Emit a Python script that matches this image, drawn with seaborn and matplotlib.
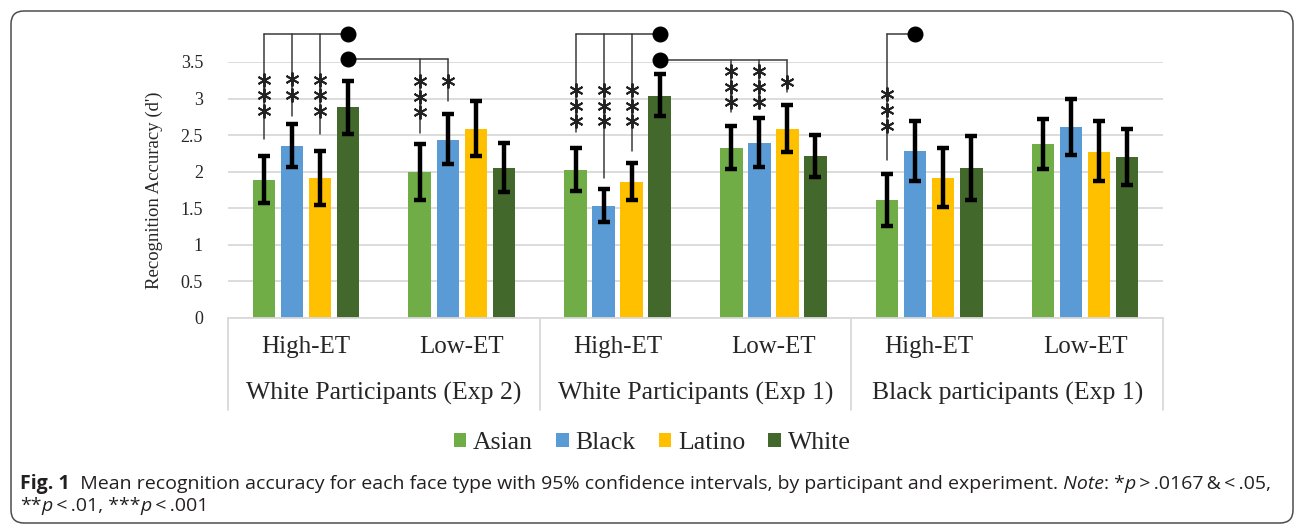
import matplotlib
matplotlib.use("Agg")
import matplotlib.pyplot as plt
import matplotlib.transforms as mtransforms
from matplotlib.patches import FancyBboxPatch, Patch
from matplotlib.font_manager import FontProperties
import seaborn as sns
import pandas as pd

# ---- data ----
participants = ["White Participants (Exp 2)", "White Participants (Exp 1)", "Black participants (Exp 1)"]
et_levels = ["High-ET", "Low-ET"]
faces = ["Asian", "Black", "Latino", "White"]
colors = ["#70AD47", "#5B9BD5", "#FFC000", "#43682B"]

# one value per cluster: Exp2 High, Exp2 Low, Exp1 High, Exp1 Low, Black High, Black Low
asian_mean = [1.89, 2.00, 2.02, 2.33, 1.61, 2.38]
black_mean = [2.35, 2.44, 1.53, 2.39, 2.28, 2.61]
latino_mean = [1.91, 2.58, 1.86, 2.59, 1.92, 2.27]
white_mean = [2.88, 2.05, 3.04, 2.21, 2.05, 2.20]

asian_lo = [1.57, 1.62, 1.74, 2.04, 1.26, 2.04]
asian_hi = [2.22, 2.38, 2.33, 2.62, 1.97, 2.72]
black_lo = [2.06, 2.10, 1.31, 2.06, 1.87, 2.23]
black_hi = [2.65, 2.79, 1.76, 2.73, 2.70, 2.99]
latino_lo = [1.54, 2.22, 1.61, 2.27, 1.52, 1.87]
latino_hi = [2.28, 2.96, 2.12, 2.91, 2.33, 2.69]
white_lo = [2.52, 1.72, 2.76, 1.93, 1.62, 1.82]
white_hi = [3.24, 2.39, 3.33, 2.50, 2.49, 2.59]

yticks = [0, 0.5, 1, 1.5, 2, 2.5, 3, 3.5]

# significance brackets: level of the bracket and the bar that carries the dot
bracket_level = [3.88, 3.54, 3.88, 3.53, 3.88]
bracket_group = [0, 0, 2, 2, 4]
bracket_face = ["White", "White", "White", "White", "Black"]
# legs hanging from each bracket
sig_bracket = [0, 0, 0, 1, 1, 2, 2, 2, 3, 3, 3, 4]
sig_group = [0, 0, 0, 1, 1, 2, 2, 2, 3, 3, 3, 4]
sig_face = ["Asian", "Black", "Latino", "Asian", "Black", "Asian", "Black", "Latino",
            "Asian", "Black", "Latino", "Asian"]
sig_stars = [3, 2, 3, 3, 1, 3, 3, 3, 3, 3, 1, 3]
sig_end = [2.45, 2.76, 2.52, 2.53, 2.97, 2.54, 1.91, 2.29, 2.82, 2.94, 3.09, 2.16]
sig_star_top = [3.26, 3.27, 3.26, 3.24, 3.24, 3.12, 3.12, 3.12, 3.38, 3.38, 3.23, 3.06]

SERIF = "Liberation Serif"


def main():
    sns.set_style("white")
    plt.rcParams["font.family"] = [SERIF, "DejaVu Serif"]

    clusters = [f"{p}|{e}" for p in participants for e in et_levels]
    means = dict(zip(faces, [asian_mean, black_mean, latino_mean, white_mean]))
    los = dict(zip(faces, [asian_lo, black_lo, latino_lo, white_lo]))
    his = dict(zip(faces, [asian_hi, black_hi, latino_hi, white_hi]))
    rows = []
    for f in faces:
        for i, c in enumerate(clusters):
            rows.append({"cluster": c, "face": f, "d": means[f][i]})
    df = pd.DataFrame(rows)

    fig = plt.figure(figsize=(12.95, 5.25), dpi=100)
    W, H = 1295, 525
    ax = fig.add_axes([228 / W, 1 - 318 / H, (1163 - 228) / W, (318 - 62) / H])

    width = 0.72
    sns.barplot(data=df, x="cluster", y="d", hue="face", order=clusters, hue_order=faces,
                palette=colors, saturation=1, width=width, gap=0.2, ax=ax, legend=False,
                edgecolor="none", zorder=2)

    step = width / len(faces)

    def xpos(g, face):
        return g + (faces.index(face) - (len(faces) - 1) / 2) * step

    for f in faces:
        xs = [xpos(g, f) for g in range(len(clusters))]
        m = means[f]
        yerr = [[m[i] - los[f][i] for i in range(len(m))],
                [his[f][i] - m[i] for i in range(len(m))]]
        ax.errorbar(xs, m, yerr=yerr, fmt="none", ecolor="black", elinewidth=3.2,
                    capsize=4.5, capthick=3.2, zorder=3)

    ax.set_ylim(0, 3.5)
    ax.set_xlim(-0.5, len(clusters) - 0.5)
    ax.set_yticks(yticks)
    ax.set_yticklabels([f"{v:g}" for v in yticks], fontsize=13, fontfamily=SERIF)
    ax.yaxis.grid(True, color="#D9D9D9", linewidth=1.3, zorder=0)
    ax.set_axisbelow(True)
    for s in ["top", "right", "left"]:
        ax.spines[s].set_visible(False)
    ax.spines["bottom"].set_color("#D9D9D9")
    ax.spines["bottom"].set_linewidth(1.3)
    ax.tick_params(axis="y", length=0, pad=18)
    ax.set_ylabel("Recognition Accuracy (d')", fontsize=13.5, fontfamily=SERIF)
    ax.yaxis.set_label_coords(-0.07, 0.5)

    ax.set_xticks(range(len(clusters)))
    ax.set_xticklabels(et_levels * len(participants), fontsize=18, fontfamily=SERIF)
    ax.tick_params(axis="x", length=0, pad=13)
    ax.set_xlabel("")

    trans = mtransforms.blended_transform_factory(ax.transData, ax.transAxes)
    for k in range(len(participants) + 1):
        ax.plot([2 * k - 0.5, 2 * k - 0.5], [0, -0.36], transform=trans, color="#D9D9D9",
                linewidth=1.3, clip_on=False)
    for k, p in enumerate(participants):
        ax.text(2 * k + 0.5, -0.295, p, transform=trans, ha="center", va="center",
                fontsize=18.5, fontfamily=SERIF)

    # significance brackets
    line_kw = dict(color="#3A3A3A", linewidth=1.1, clip_on=False, zorder=4)
    for b, level in enumerate(bracket_level):
        cx = xpos(bracket_group[b], bracket_face[b])
        legs = [i for i in range(len(sig_bracket)) if sig_bracket[i] == b]
        xs = [xpos(sig_group[i], sig_face[i]) for i in legs] + [cx]
        ax.plot([min(xs), max(xs)], [level, level], **line_kw)
        ax.plot([cx], [level], "o", color="black", markersize=10.5, clip_on=False, zorder=5)
        for i in legs:
            lx = xpos(sig_group[i], sig_face[i])
            ax.plot([lx, lx], [level, sig_end[i]], **line_kw)
            for s in range(sig_stars[i]):
                ax.plot([lx], [sig_star_top[i] - s * 0.215], marker=(6, 2, 0), markersize=10,
                        markeredgewidth=1.4, color="#222222", clip_on=False, zorder=5)

    handles = [Patch(facecolor=c, edgecolor="none") for c in colors]
    leg = fig.legend(handles, faces, loc="center", bbox_to_anchor=(652 / W, 1 - 443 / H), ncol=4,
                     frameon=False, prop=FontProperties(family=SERIF, size=18.5),
                     handlelength=0.5, handleheight=0.5, handletextpad=0.25,
                     columnspacing=0.9, borderpad=0)
    for t in leg.get_texts():
        t.set_fontfamily(SERIF)

    # figure frame
    frame = FancyBboxPatch((0.11, 0.02), 12.82, 5.12, boxstyle="round,pad=0,rounding_size=0.13",
                           transform=fig.dpi_scale_trans, facecolor="none", edgecolor="#4D4D4D",
                           linewidth=1.1)
    fig.patches.append(frame)

    # caption with mixed styles
    renderer = fig.canvas.get_renderer()
    cap_font = ["Open Sans", "DejaVu Sans"]
    ident = mtransforms.IdentityTransform()

    def runs(x, y, pieces):
        for s, weight, style in pieces:
            t = fig.text(x, y, s, transform=ident, fontsize=14, family=cap_font,
                         fontweight=weight, fontstyle=style, color="#231F20", va="baseline")
            x += t.get_window_extent(renderer).width

    th = "\u2009"
    runs(20, H - 489, [("Fig. 1", "bold", "normal"),
                       ("  Mean recognition accuracy for each face type with 95% confidence "
                        "intervals, by participant and experiment.", "normal", "normal"),
                       (" Note", "normal", "italic"), (": *", "normal", "normal"),
                       ("p", "normal", "italic"),
                       (f"{th}>{th}.0167{th}&{th}<{th}.05,", "normal", "normal")])
    runs(20, H - 511, [("**", "normal", "normal"), ("p", "normal", "italic"),
                       (f"{th}<{th}.01, ***", "normal", "normal"), ("p", "normal", "italic"),
                       (f"{th}<{th}.001", "normal", "normal")])

    fig.savefig("out.png", dpi=100)


if __name__ == "__main__":
    main()
